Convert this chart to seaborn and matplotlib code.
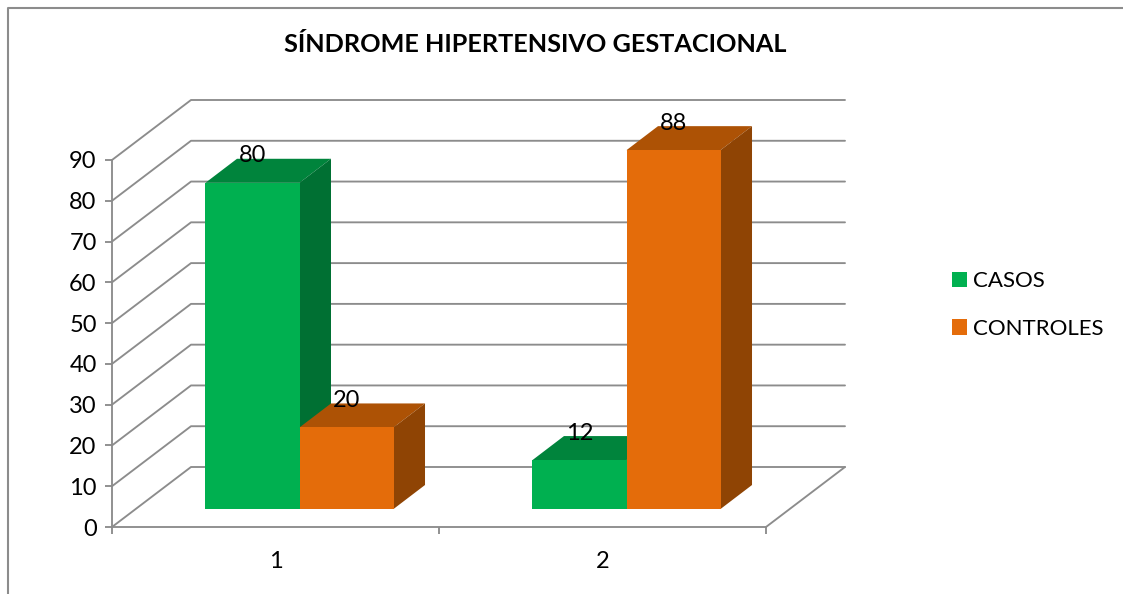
import matplotlib
matplotlib.use("Agg")
import matplotlib.pyplot as plt
from matplotlib.lines import Line2D
from matplotlib.patches import Polygon
from matplotlib.transforms import Affine2D, IdentityTransform
import numpy as np
import pandas as pd
import seaborn as sns

categories = ["1", "2"]
casos = [80, 12]
controles = [20, 88]
series_names = ["CASOS", "CONTROLES"]
yticks = list(range(0, 100, 10))
title = "SÍNDROME HIPERTENSIVO GESTACIONAL"

FRONT = {"CASOS": "#00B050", "CONTROLES": "#E46C0A"}
TOP = {"CASOS": "#00843C", "CONTROLES": "#AD5205"}
SIDE = {"CASOS": "#007033", "CONTROLES": "#8F4404"}
GRID = "#8C8C8C"
LW = 1.35

W, H = 1123, 594
sns.set_theme(style="white")
plt.rcParams["font.family"] = ["Lato", "DejaVu Sans"]

df = pd.DataFrame({
    "grupo": categories * 2,
    "valor": casos + controles,
    "serie": [series_names[0]] * 2 + [series_names[1]] * 2,
})

fig = plt.figure(figsize=(W / 100, H / 100), dpi=100, facecolor="white")
ax = fig.add_axes([112 / W, (H - 527) / H, 654 / W, 367 / H])
ax.patch.set_alpha(0)

sns.barplot(data=df, x="grupo", y="valor", hue="serie", palette=FRONT, saturation=1,
            width=0.575, gap=0, dodge=True, linewidth=0, ax=ax, zorder=3)
handles, labels = ax.get_legend_handles_labels()
ax.set_xlim(-0.5, 1.5)
ax.set_ylim(0, 90)
ax.set_xlabel("")
ax.set_ylabel("")
ax.set_yticks(yticks)
ax.set_xticks([-0.5, 0.5, 1.5], minor=False)
ax.set_xticklabels([])
ax.set_xticks([0, 1], minor=True)
ax.set_xticklabels(categories, minor=True)

ax.tick_params(axis="x", which="major", length=5, width=LW, color=GRID, direction="out", bottom=True)
ax.tick_params(axis="x", which="minor", length=0, labelsize=17, pad=17, labelcolor="black", bottom=False)
ax.tick_params(axis="y", length=5, width=LW, color=GRID, direction="out", left=True,
               labelsize=17, pad=6, labelcolor="black")

for s in ("top", "right"):
    ax.spines[s].set_visible(False)
for s in ("left", "bottom"):
    ax.spines[s].set_color(GRID)
    ax.spines[s].set_linewidth(LW)
    ax.spines[s].set_zorder(1)

# pixel offsets of the pseudo-3D projection
BACK = (79, 60)
BAR_SHIFT = (24, 18)
BAR_DEPTH = (31.5, 24)


def disp(x, y, off=(0, 0)):
    p = ax.transData.transform((x, y))
    return (p[0] + off[0], p[1] + off[1])


idt = IdentityTransform()

# walls and floor
for v in yticks:
    p0 = disp(-0.5, v)
    p1 = disp(-0.5, v, BACK)
    p2 = disp(1.5, v, BACK)
    ax.add_artist(Line2D([p0[0], p1[0], p2[0]], [p0[1], p1[1], p2[1]], color=GRID,
                         lw=LW, transform=idt, zorder=1, clip_on=False))
p0 = disp(1.5, 0)
p1 = disp(1.5, 0, BACK)
ax.add_artist(Line2D([p0[0], p1[0]], [p0[1], p1[1]], color=GRID, lw=LW, transform=idt,
                     zorder=1, clip_on=False))

# bars: the seaborn faces are shifted back, then side and top are added from their geometry
shift = Affine2D().translate(*BAR_SHIFT)
z = 3.0
for container, name in zip(ax.containers, series_names):
    for bar in container:
        x0, x1 = bar.get_x(), bar.get_x() + bar.get_width()
        h = bar.get_height()
        bar.set_transform(ax.transData + shift)
        bar.set_clip_on(False)
        bar.set_zorder(z + 0.2)
        s = BAR_SHIFT
        b = (BAR_SHIFT[0] + BAR_DEPTH[0], BAR_SHIFT[1] + BAR_DEPTH[1])
        top = [disp(x0, h, s), disp(x1, h, s), disp(x1, h, b), disp(x0, h, b)]
        side = [disp(x1, 0, s), disp(x1, h, s), disp(x1, h, b), disp(x1, 0, b)]
        ax.add_patch(Polygon(top, closed=True, fc=TOP[name], ec="none", transform=idt,
                             clip_on=False, zorder=z))
        ax.add_patch(Polygon(side, closed=True, fc=SIDE[name], ec="none", transform=idt,
                             clip_on=False, zorder=z))
        lab = disp((x0 + x1) / 2, h, (BAR_SHIFT[0], b[1]))
        ax.text(lab[0], lab[1] + 3, f"{h:g}", transform=idt, ha="center", va="center",
                fontsize=17, color="black", zorder=10, clip_on=False)
    z += 1

if ax.get_legend() is not None:
    ax.get_legend().remove()
fs_px = 16 * 100 / 72
fig.legend(handles, labels, loc="upper left", bbox_to_anchor=(952 / W, 1 - 271 / H),
           frameon=False, fontsize=16, borderpad=0, borderaxespad=0,
           handlelength=15 / fs_px, handleheight=15 / fs_px,
           handletextpad=6 / fs_px, labelspacing=1.25, labelcolor="black")

fig.text(535.5 / W, 1 - 52 / H, title, ha="center", va="baseline", fontsize=18.2,
         fontweight="bold", color="black")

# chart frame
fig.add_artist(Line2D([8, 8, W], [0, H - 7.5, H - 7.5], color=GRID, lw=1.5, transform=idt))

fig.savefig("out.png", dpi=100, facecolor="white")
